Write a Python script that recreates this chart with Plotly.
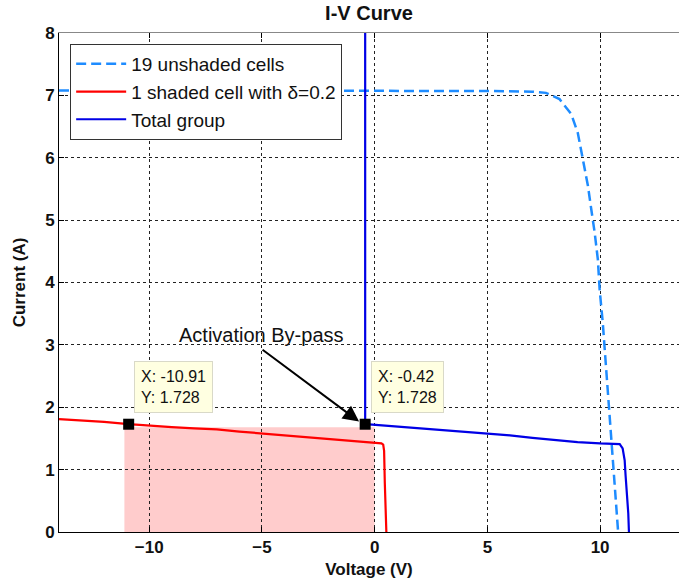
import plotly.graph_objects as go

# ---- data ----
unshaded_v = [-14, -10, -5, 0, 5, 7.0, 7.6, 8.2, 8.72, 9.01, 9.24, 9.46, 9.61, 9.76,
              9.90, 9.98, 10.12, 10.24, 10.35, 10.5, 10.61, 10.72, 10.80]
unshaded_i = [7.08, 7.08, 7.08, 7.08, 7.07, 7.06, 7.04, 6.94, 6.70, 6.40, 5.98, 5.55,
              5.17, 4.80, 4.37, 3.89, 3.35, 2.76, 2.12, 1.47, 0.88, 0.30, 0.0]

shaded_v = [-14, -12, -10.91, -10, -9, -8, -7, -6, -5, -4, -3, -2, -1, -0.3, 0.3,
            0.38, 0.42, 0.45, 0.49, 0.52]
shaded_i = [1.81, 1.765, 1.728, 1.70, 1.68, 1.66, 1.645, 1.61, 1.58, 1.55, 1.52, 1.48,
            1.45, 1.43, 1.42, 1.40, 1.30, 0.80, 0.30, 0.0]

total_v = [-0.42, -0.42, -0.1, 1, 2, 3, 4, 5, 6, 7, 8, 9, 10, 10.87, 11.0, 11.09,
           11.13, 11.19, 11.25, 11.28]
total_i = [8.5, 1.728, 1.72, 1.69, 1.665, 1.64, 1.61, 1.58, 1.55, 1.51, 1.47, 1.44,
           1.42, 1.41, 1.34, 1.15, 0.91, 0.62, 0.30, 0.0]

tip_v = [-10.91, -0.42]
tip_i = [1.728, 1.728]
tip_labels = ["X: -10.91<br>Y: 1.728", "X: -0.42<br>Y: 1.728"]

area_v = [-11.1, 0.0]
area_i = [0.0, 1.68]

x_ticks = [-10, -5, 0, 5, 10]
y_ticks = [0, 1, 2, 3, 4, 5, 6, 7, 8]
x_range = [-14, 13.5]
y_range = [0, 8]

FONT = "Liberation Sans, Arial, sans-serif"

fig = go.Figure()

fig.add_trace(go.Scatter(x=unshaded_v, y=unshaded_i, mode="lines",
                         name="19 unshaded cells",
                         line=dict(color="#1E8CFF", width=2.5, dash="10px,5px")))
fig.add_trace(go.Scatter(x=shaded_v, y=shaded_i, mode="lines",
                         name="1 shaded cell with \u03b4=0.2",
                         line=dict(color="#FF0000", width=2.2)))
fig.add_trace(go.Scatter(x=total_v, y=total_i, mode="lines",
                         name="Total group",
                         line=dict(color="#0000E6", width=2.2)))
fig.add_trace(go.Scatter(x=tip_v, y=tip_i, mode="markers", showlegend=False,
                         marker=dict(symbol="square", size=11, color="black")))
# empty trace to carry the mirrored top axis
fig.add_trace(go.Scatter(x=[], y=[], xaxis="x2", showlegend=False, hoverinfo="skip"))

# shaded power area
fig.add_shape(type="rect", xref="x", yref="y",
              x0=area_v[0], x1=area_v[1], y0=area_i[0], y1=area_i[1],
              fillcolor="rgba(255,0,0,0.2)", line=dict(width=0), layer="below")

# data tips
tip_pos = [(-10.67, 2.74), (-0.17, 2.74)]
for (tx, ty), lab in zip(tip_pos, tip_labels):
    fig.add_annotation(x=tx, y=ty, xref="x", yref="y", text=lab, showarrow=False,
                       xanchor="left", yanchor="top", align="left",
                       font=dict(family=FONT, size=16, color="#111"),
                       bgcolor="#FFFFE1", bordercolor="#D9D9C8", borderwidth=1,
                       borderpad=6)

# arrow + label
fig.add_annotation(x=-0.69, y=1.77, xref="x", yref="y", text="",
                   showarrow=True, ax=-98, ay=-73, arrowhead=2, arrowsize=1.6,
                   arrowwidth=2, arrowcolor="black", standoff=0)
fig.add_annotation(x=-5.03, y=3.16, xref="x", yref="y", text="Activation By-pass",
                   showarrow=False, font=dict(family=FONT, size=20, color="#111"))

fig.update_layout(
    width=679, height=585,
    margin=dict(l=59, r=0, t=33, b=53),
    paper_bgcolor="white", plot_bgcolor="white",
    title=dict(text="<b>I-V Curve</b>", x=0.5, xref="paper", y=1 - 13 / 585,
               yref="container", yanchor="middle", xanchor="center",
               font=dict(family=FONT, size=20, color="#111")),
    font=dict(family=FONT, color="#111"),
    showlegend=True,
    legend=dict(x=0.018, y=0.978, xanchor="left", yanchor="top",
                bgcolor="white", bordercolor="#333", borderwidth=1,
                font=dict(family=FONT, size=19, color="#111"),
                itemwidth=50, tracegroupgap=4),
    xaxis=dict(range=x_range, tickvals=x_ticks, ticks="inside", ticklen=5,
               tickcolor="black", showline=True, linecolor="black", linewidth=1,
               showgrid=True, gridcolor="#222", gridwidth=1, griddash="3px,3px",
               zeroline=False,
               tickfont=dict(family=FONT, size=17, color="#111", weight="bold"),
               title=dict(text="<b>Voltage (V)</b>", standoff=6,
                          font=dict(family=FONT, size=17, color="#111"))),
    xaxis2=dict(range=x_range, tickvals=x_ticks, overlaying="x", side="top",
                ticks="inside", ticklen=5, tickcolor="black", showticklabels=False,
                showline=True, linecolor="#888", linewidth=1, showgrid=False,
                zeroline=False),
    yaxis=dict(range=y_range, tickvals=y_ticks, ticks="inside", ticklen=5,
               tickcolor="black", showline=True, linecolor="black", linewidth=1,
               showgrid=True, gridcolor="#222", gridwidth=1, griddash="3px,3px",
               zeroline=False,
               tickfont=dict(family=FONT, size=17, color="#111", weight="bold"),
               title=dict(text="<b>Current (A)</b>", standoff=15,
                          font=dict(family=FONT, size=17, color="#111"))),
)

fig.write_html("out.html", config={"displayModeBar": False},
               post_script="document.body.style.margin='0';document.body.style.padding='0';")
